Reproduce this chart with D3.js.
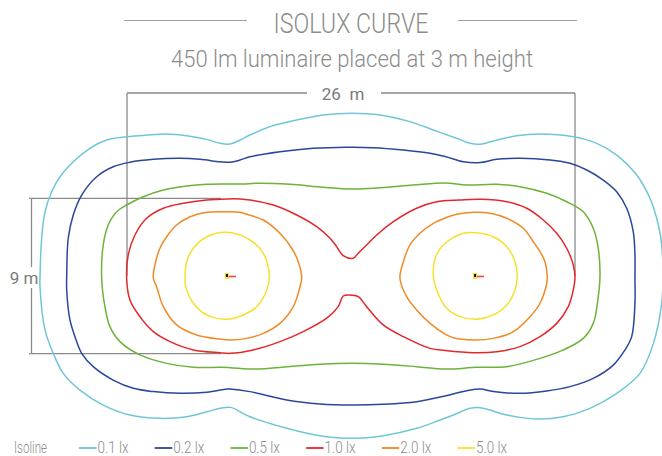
<!DOCTYPE html>
<html>
<head>
<meta charset="utf-8">
<script src="https://cdn.jsdelivr.net/npm/d3@7"></script>
<style>
  html, body { margin: 0; padding: 0; background: #fff; }
  svg { display: block; }
</style>
</head>
<body>
<div id="chart"></div>
<script>
// Isoline levels and their colours
const levels = ['0.1 lx', '0.2 lx', '0.5 lx', '1.0 lx', '2.0 lx', '5.0 lx'];
const levelColors = ['#6fc6d8', '#2a479b', '#6bb33a', '#e5262b', '#f08a25', '#f6e02c'];

// Luminaire positions along the x axis (m)
const luminaires = [-7.2, 7.2];

// Contour outlines, [x, y] in metres from the centre of the pair
const lux01 = [
  [-18.05, -0.12], [-17.95, 2.21], [-17.76, 3.71], [-17.37, 4.89], [-16.89, 5.76], [-16.12, 6.63],
  [-15.15, 7.41], [-14.18, 7.89], [-13.02, 8.08], [-11.86, 8.18], [-10.70, 8.24], [-9.54, 8.14],
  [-8.37, 7.93], [-7.60, 7.70], [-7.02, 7.66], [-6.44, 7.89], [-5.86, 8.18], [-4.70, 8.67],
  [-3.15, 9.05], [-1.61, 9.34], [0.04, 9.44], [1.68, 9.34], [3.42, 8.96], [4.78, 8.47],
  [6.13, 7.99], [6.91, 7.70], [7.59, 7.66], [8.46, 7.89], [9.62, 8.14], [10.97, 8.24],
  [12.90, 8.08], [14.26, 7.70], [15.42, 7.02], [16.58, 5.86], [17.35, 4.51], [17.84, 2.96],
  [18.03, 1.80], [18.11, 0.00], [18.03, -1.58], [17.55, -3.91], [16.77, -5.65], [15.42, -6.81],
  [13.87, -7.68], [12.32, -8.17], [10.78, -8.30], [9.04, -8.07], [8.07, -7.78], [7.49, -7.64],
  [6.91, -7.68], [5.94, -8.07], [5.17, -8.36], [3.81, -8.84], [1.87, -9.27], [0.04, -9.42],
  [-1.80, -9.27], [-3.73, -8.84], [-5.86, -8.17], [-6.44, -7.88], [-6.92, -7.64], [-7.41, -7.64],
  [-8.37, -7.88], [-9.54, -8.17], [-11.09, -8.26], [-12.83, -8.07], [-14.38, -7.49], [-15.73, -6.62],
  [-16.70, -5.65], [-17.28, -4.49], [-17.76, -3.13], [-18.05, -0.62]
];

const lux02 = [
  [-16.50, -0.13], [-16.41, 2.19], [-16.12, 3.54], [-15.63, 4.70], [-14.76, 5.76], [-13.80, 6.34],
  [-12.83, 6.60], [-11.47, 6.77], [-9.92, 6.83], [-8.76, 6.77], [-7.60, 6.63], [-7.02, 6.60],
  [-6.44, 6.73], [-5.86, 6.92], [-4.12, 7.21], [-2.19, 7.41], [-0.25, 7.47], [1.29, 7.45],
  [3.04, 7.31], [4.59, 7.12], [5.46, 6.94], [6.52, 6.63], [7.49, 6.58], [8.46, 6.77],
  [9.81, 6.83], [11.55, 6.73], [12.71, 6.54], [13.68, 6.15], [14.64, 5.57], [15.42, 4.89],
  [16.00, 3.93], [16.38, 2.57], [16.48, 1.22], [16.48, -0.23], [16.48, -1.58], [16.29, -3.52],
  [15.90, -4.29], [15.22, -5.17], [14.06, -5.94], [12.71, -6.42], [11.36, -6.67], [9.81, -6.81],
  [8.26, -6.71], [7.49, -6.56], [6.72, -6.66], [5.46, -6.96], [3.81, -7.30], [1.87, -7.45],
  [0.04, -7.49], [-1.80, -7.43], [-3.73, -7.20], [-5.86, -6.71], [-7.02, -6.56], [-7.21, -6.56],
  [-8.37, -6.75], [-9.92, -6.81], [-11.47, -6.71], [-12.63, -6.52], [-13.80, -6.04], [-14.96, -5.26],
  [-15.63, -4.49], [-16.02, -3.52], [-16.31, -2.55], [-16.50, -0.81]
];

const lux05 = [
  [-14.47, -0.13], [-14.38, 1.80], [-14.09, 2.96], [-13.60, 3.73], [-13.02, 4.12], [-12.05, 4.60],
  [-10.89, 4.99], [-9.54, 5.22], [-8.37, 5.32], [-7.21, 5.34], [-6.27, 5.34], [-5.47, 5.38],
  [-3.54, 5.32], [-1.61, 5.15], [0.04, 5.05], [1.68, 5.12], [3.62, 5.28], [5.46, 5.40],
  [6.72, 5.28], [8.46, 5.32], [9.81, 5.18], [11.36, 4.80], [12.52, 4.31], [13.48, 3.73],
  [14.06, 2.77], [14.35, 1.61], [14.45, 0.00], [14.35, -1.20], [14.06, -2.75], [13.48, -3.62],
  [12.32, -4.29], [10.97, -4.78], [9.04, -5.26], [7.30, -5.30], [5.46, -5.40], [3.81, -5.26],
  [1.87, -5.12], [0.04, -5.07], [-1.80, -5.12], [-3.73, -5.26], [-5.47, -5.40], [-7.02, -5.32],
  [-7.60, -5.30], [-9.15, -5.30], [-10.70, -5.07], [-12.25, -4.58], [-13.41, -3.81], [-13.99, -2.94],
  [-14.28, -1.78]
];

const lux10 = [
  [-13.02, -0.13], [-12.93, 1.22], [-12.54, 2.38], [-11.86, 3.35], [-10.89, 3.93], [-9.73, 4.22],
  [-8.37, 4.41], [-7.21, 4.47], [-6.44, 4.47], [-5.86, 4.41], [-4.51, 4.12], [-3.15, 3.54],
  [-1.99, 2.86], [-1.22, 2.19], [-0.83, 1.70], [-0.45, 1.18], [0.13, 1.03], [0.42, 1.32],
  [0.91, 1.80], [1.49, 2.38], [2.46, 3.15], [3.81, 3.93], [4.97, 4.31], [6.33, 4.41],
  [7.49, 4.45], [9.04, 4.31], [10.20, 3.93], [11.16, 3.25], [11.94, 2.48], [12.52, 1.61],
  [12.90, 0.64], [13.00, -0.06], [12.90, -0.81], [12.61, -1.78], [11.94, -2.75], [10.97, -3.52],
  [9.81, -4.10], [8.46, -4.39], [7.10, -4.45], [5.46, -4.32], [4.59, -4.20], [3.04, -3.52],
  [1.87, -2.84], [0.91, -1.78], [0.42, -1.20], [-0.06, -1.10], [-0.45, -1.16], [-0.74, -1.78],
  [-1.41, -2.45], [-2.77, -3.23], [-4.12, -3.81], [-5.67, -4.29], [-7.02, -4.49], [-7.60, -4.45],
  [-9.15, -4.29], [-10.50, -3.81], [-11.47, -3.23], [-12.25, -2.36], [-12.83, -1.39]
];

const lux20Left = [
  [-11.47, -0.13], [-11.38, 0.64], [-11.09, 1.61], [-10.70, 2.28], [-10.12, 2.96], [-9.34, 3.44],
  [-8.37, 3.70], [-7.21, 3.73], [-6.44, 3.70], [-6.05, 3.58], [-5.09, 3.25], [-4.12, 2.48],
  [-3.44, 1.61], [-3.06, 0.83], [-2.86, -0.12], [-2.96, -0.62], [-3.35, -1.78], [-4.12, -2.75],
  [-5.09, -3.33], [-6.05, -3.62], [-7.02, -3.71], [-7.60, -3.66], [-8.96, -3.42], [-10.12, -2.84],
  [-10.89, -1.78], [-11.28, -0.62]
];

const lux20Right = [
  [2.84, -0.13], [3.04, 0.83], [3.42, 1.80], [4.00, 2.48], [4.78, 3.06], [5.46, 3.37],
  [6.13, 3.58], [7.10, 3.70], [8.07, 3.64], [9.04, 3.35], [10.00, 2.77], [10.58, 1.99],
  [10.97, 1.41], [11.26, 0.83], [11.39, 0.00], [11.36, -0.42], [10.97, -1.58], [10.39, -2.36],
  [9.42, -3.23], [8.26, -3.62], [7.10, -3.71], [5.94, -3.58], [5.46, -3.37], [4.59, -2.75],
  [3.81, -1.97], [3.23, -1.20]
];

const lux50Left = [
  [-9.63, -0.13], [-9.54, 0.83], [-9.15, 1.61], [-8.37, 2.28], [-7.21, 2.54], [-5.86, 2.09],
  [-5.09, 1.32], [-4.74, 0.00], [-4.89, -0.81], [-5.47, -1.78], [-6.25, -2.26], [-7.21, -2.51],
  [-8.37, -2.26], [-9.15, -1.58], [-9.59, -0.62]
];

const lux50Right = [
  [4.78, 0.00], [4.88, 1.03], [5.36, 1.80], [6.52, 2.48], [7.30, 2.51], [8.26, 2.28],
  [9.04, 1.70], [9.52, 0.83], [9.65, 0.00], [9.52, -0.81], [9.04, -1.68], [8.26, -2.26],
  [7.30, -2.51], [6.33, -2.36], [5.55, -1.87], [4.97, -0.81]
];

const contours = [
  { level: 0, points: lux01 },
  { level: 1, points: lux02 },
  { level: 2, points: lux05 },
  { level: 3, points: lux10 },
  { level: 4, points: lux20Left },
  { level: 4, points: lux20Right },
  { level: 5, points: lux50Left },
  { level: 5, points: lux50Right }
];

// Dimension labels
const widthLabel = '26\u2002m';
const heightLabel = '9 m';
const widthSpan = [-13, 13];
const heightSpan = [-4.5, 4.5];

// =============================================================================
// Drawing
// =============================================================================
const W = 662, H = 456;
const DIM_COLOR = '#8a8a8a';
const TEXT_COLOR = '#8c8c8c';
const FONT = "'Roboto', 'Liberation Sans', sans-serif";

const svg = d3.select('#chart').append('svg')
  .attr('width', W)
  .attr('height', H);

// Scales: 26 m across the 1.0 lx outline, same px per metre on both axes
const x = d3.scaleLinear().domain(widthSpan).range([127, 575]);
const k = (x(1) - x(0));
const cy = 276;
const y = d3.scaleLinear().domain([-1, 1]).range([cy + k, cy - k]);

// Title
svg.append('text')
  .attr('x', 351).attr('y', 33)
  .attr('text-anchor', 'middle')
  .attr('font-family', FONT)
  .attr('font-weight', 300)
  .attr('font-size', 28)
  .attr('fill', TEXT_COLOR)
  .attr('textLength', 155)
  .attr('lengthAdjust', 'spacingAndGlyphs')
  .text('ISOLUX CURVE');

svg.append('line')
  .attr('x1', 124).attr('x2', 247).attr('y1', 20.5).attr('y2', 20.5)
  .attr('stroke', '#a0a0a0').attr('stroke-width', 1.2);
svg.append('line')
  .attr('x1', 458).attr('x2', 577).attr('y1', 20.5).attr('y2', 20.5)
  .attr('stroke', '#a0a0a0').attr('stroke-width', 1.2);

svg.append('text')
  .attr('x', 352).attr('y', 67)
  .attr('text-anchor', 'middle')
  .attr('font-family', FONT)
  .attr('font-weight', 300)
  .attr('font-size', 23)
  .attr('fill', TEXT_COLOR)
  .attr('textLength', 362)
  .attr('lengthAdjust', 'spacingAndGlyphs')
  .text('450 lm luminaire placed at 3 m height');

// Dimension lines
const dims = svg.append('g')
  .attr('stroke', DIM_COLOR)
  .attr('stroke-width', 1.3)
  .attr('fill', 'none');

const dimTop = 93;
dims.append('line')
  .attr('x1', x(widthSpan[0])).attr('x2', 307)
  .attr('y1', dimTop).attr('y2', dimTop);
dims.append('line')
  .attr('x1', 381).attr('x2', x(widthSpan[1]))
  .attr('y1', dimTop).attr('y2', dimTop);
widthSpan.forEach(v => {
  dims.append('line')
    .attr('x1', x(v)).attr('x2', x(v))
    .attr('y1', dimTop).attr('y2', y(0));
});

const dimLeft = 31.5;
heightSpan.forEach(v => {
  dims.append('line')
    .attr('x1', 29).attr('x2', 221)
    .attr('y1', y(v)).attr('y2', y(v));
});
dims.append('line')
  .attr('x1', dimLeft).attr('x2', dimLeft)
  .attr('y1', y(heightSpan[1])).attr('y2', 267);
dims.append('line')
  .attr('x1', dimLeft).attr('x2', dimLeft)
  .attr('y1', 288).attr('y2', y(heightSpan[0]));

svg.append('text')
  .attr('x', 343).attr('y', 100)
  .attr('text-anchor', 'middle')
  .attr('font-family', "'Roboto', 'Liberation Sans', Arial, sans-serif")
  .attr('font-size', 17)
  .attr('fill', '#7a7a7a')
  .text(widthLabel);

svg.append('text')
  .attr('x', 24).attr('y', 284)
  .attr('text-anchor', 'middle')
  .attr('font-family', "'Roboto', 'Liberation Sans', Arial, sans-serif")
  .attr('font-size', 17)
  .attr('fill', '#7a7a7a')
  .text(heightLabel);

// Isolines
const line = d3.line()
  .x(d => x(d[0]))
  .y(d => y(d[1]))
  .curve(d3.curveCatmullRomClosed.alpha(0.5));

svg.append('g')
  .selectAll('path')
  .data(contours)
  .enter()
  .append('path')
  .attr('d', d => line(d.points))
  .attr('fill', 'none')
  .attr('stroke', d => levelColors[d.level])
  .attr('stroke-width', 1.5)
  .attr('stroke-linejoin', 'round');

// Luminaire markers
const lum = svg.append('g')
  .selectAll('g')
  .data(luminaires)
  .enter()
  .append('g')
  .attr('transform', d => `translate(${x(d)},${y(0)})`);

lum.append('line')
  .attr('x1', 1).attr('x2', 9).attr('y1', 0.5).attr('y2', 0.5)
  .attr('stroke', '#e84848').attr('stroke-width', 1.6);
lum.append('rect')
  .attr('x', -2).attr('y', -3).attr('width', 4).attr('height', 6)
  .attr('fill', '#f6e02c');
lum.append('rect')
  .attr('x', -1).attr('y', -2).attr('width', 2).attr('height', 3)
  .attr('fill', '#111');

// Legend
const legendY = 448;
svg.append('text')
  .attr('x', 14).attr('y', legendY + 5)
  .attr('font-family', FONT)
  .attr('font-weight', 300)
  .attr('font-size', 16)
  .attr('fill', TEXT_COLOR)
  .attr('textLength', 33)
  .attr('lengthAdjust', 'spacingAndGlyphs')
  .text('Isoline');

const legend = svg.append('g')
  .selectAll('g')
  .data(levels)
  .enter()
  .append('g')
  .attr('transform', (d, i) => `translate(${79 + i * 75.7},${legendY})`);

legend.append('line')
  .attr('x1', 0).attr('x2', 17.5).attr('y1', 0).attr('y2', 0)
  .attr('stroke', (d, i) => levelColors[i])
  .attr('stroke-width', 1.8);

legend.append('text')
  .attr('x', 18.5).attr('y', 5)
  .attr('font-family', FONT)
  .attr('font-weight', 300)
  .attr('font-size', 16)
  .attr('fill', TEXT_COLOR)
  .attr('textLength', 31)
  .attr('lengthAdjust', 'spacingAndGlyphs')
  .text(d => d);
</script>
</body>
</html>
